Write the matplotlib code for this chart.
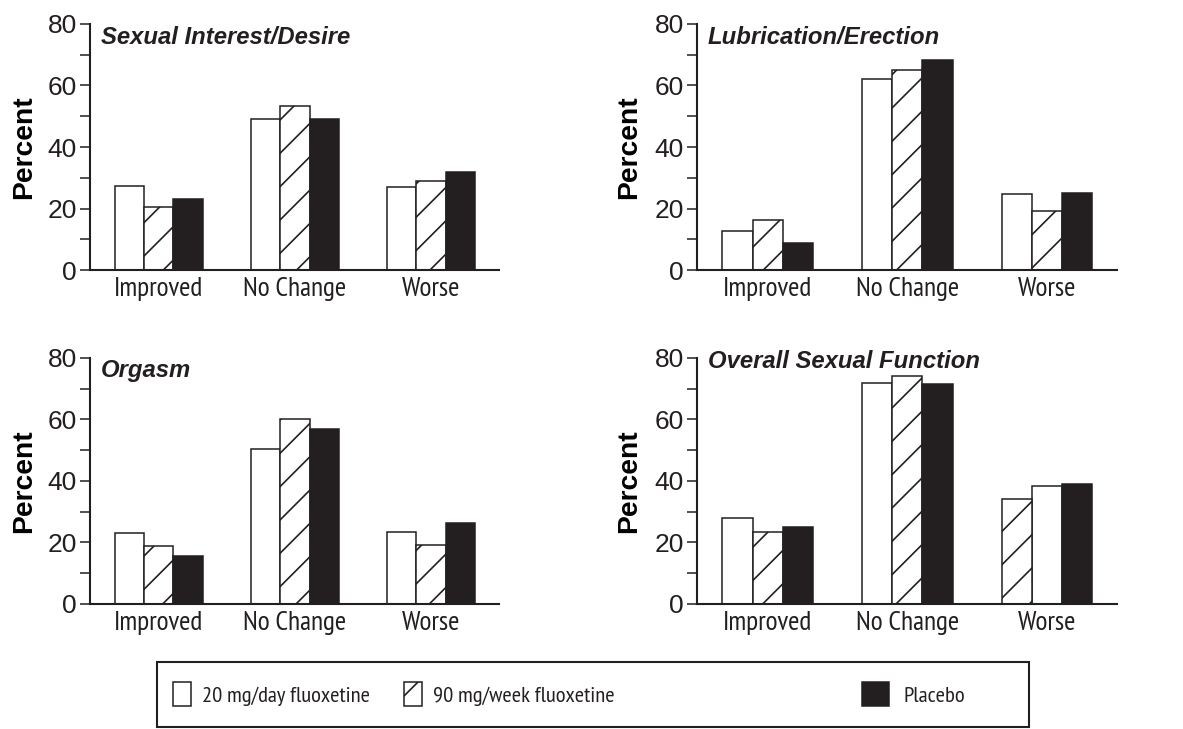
import numpy as np
import matplotlib
matplotlib.use("Agg")
import matplotlib.pyplot as plt
from matplotlib.patches import Patch, Rectangle


# =========================
# data (percent)
# =========================

categories = ["Improved", "No Change", "Worse"]
series_names = ["20 mg/day fluoxetine", "90 mg/week fluoxetine", "Placebo"]
panel_titles = ["Sexual Interest/Desire", "Lubrication/Erection",
                "Orgasm", "Overall Sexual Function"]

desire_daily = [27.3, 49.2, 27.1]
desire_weekly = [20.6, 53.2, 29.0]
desire_placebo = [23.1, 49.2, 31.9]

lubrication_daily = [12.6, 62.1, 24.8]
lubrication_weekly = [16.3, 65.1, 19.2]
lubrication_placebo = [8.9, 68.2, 25.0]

orgasm_daily = [23.0, 50.5, 23.5]
orgasm_weekly = [18.8, 60.3, 19.1]
orgasm_placebo = [15.7, 57.0, 26.3]

overall_daily = [27.8, 71.9, 38.2]
overall_weekly = [23.4, 74.1, 34.1]
overall_placebo = [25.1, 71.5, 39.1]

panel_values = [
    [desire_daily, desire_weekly, desire_placebo],
    [lubrication_daily, lubrication_weekly, lubrication_placebo],
    [orgasm_daily, orgasm_weekly, orgasm_placebo],
    [overall_daily, overall_weekly, overall_placebo],
]

# in the original, "Worse" of the last panel shows the hatched bar first
swapped = {(3, 2)}


# =========================
# style
# =========================

INK = "#231f20"
NARROW = ["PT Sans Narrow", "Roboto Condensed", "Liberation Sans", "DejaVu Sans"]
WIDE = ["Liberation Sans", "DejaVu Sans"]

plt.rcParams["font.family"] = NARROW
plt.rcParams["hatch.linewidth"] = 0.6
plt.rcParams["text.color"] = INK
plt.rcParams["axes.edgecolor"] = INK
plt.rcParams["xtick.color"] = INK
plt.rcParams["ytick.color"] = INK

styles = [
    dict(facecolor="white", edgecolor=INK, hatch=None),
    dict(facecolor="white", edgecolor=INK, hatch="//"),
    dict(facecolor=INK, edgecolor=INK, hatch=None),
]

# axes rectangles in figure fractions
rects = [
    [0.0761, 0.6296, 0.3457, 0.3375],
    [0.5892, 0.6296, 0.3550, 0.3375],
    [0.0761, 0.1715, 0.3457, 0.3375],
    [0.5892, 0.1715, 0.3550, 0.3375],
]
title_y = [0.947, 0.947, 0.948, 0.984]
legend_x = [0.1462, 0.3415, 0.7287]

bar_w = 0.216

fig = plt.figure(figsize=(5.915, 3.645), dpi=200)

for p, (vals, title) in enumerate(zip(panel_values, panel_titles)):
    ax = fig.add_axes(rects[p])
    x = np.arange(len(categories))
    offsets = np.array([[-1.0] * 3, [0.0] * 3, [1.0] * 3])
    for (pp, c) in swapped:
        if pp == p:
            offsets[0, c], offsets[1, c] = offsets[1, c], offsets[0, c]
    for i, v in enumerate(vals):
        ax.bar(x + offsets[i] * bar_w, v, width=bar_w, linewidth=0.55,
               **styles[i])

    ax.set_xlim(-0.505, 2.5)
    ax.set_ylim(0, 80)
    ax.set_yticks([0, 20, 40, 60, 80])
    ax.set_yticks([10, 30, 50, 70], minor=True)
    ax.set_xticks(x)
    ax.set_xticklabels(categories)
    ax.tick_params(axis="y", which="both", direction="out", length=3.6,
                   width=0.55, pad=1.2, labelsize=9.5)
    ax.tick_params(axis="x", length=0, pad=2.4, labelsize=9.9)
    for lab in ax.get_yticklabels():
        lab.set_family(WIDE)
    for s in ["top", "right"]:
        ax.spines[s].set_visible(False)
    for s in ["left", "bottom"]:
        ax.spines[s].set_linewidth(0.75)

    ax.set_ylabel("Percent", family=WIDE, fontweight="bold", fontsize=10.2)
    ax.yaxis.set_label_coords(-0.13, 0.5)
    ax.text(0.026, title_y[p], title, transform=ax.transAxes,
            family=WIDE, fontweight="bold", fontstyle="italic",
            fontsize=8.6, ha="left", va="center")

# legend box
fig.patches.append(Rectangle((0.1327, 0.0027), 0.7371, 0.0892,
                             transform=fig.transFigure, fill=False,
                             edgecolor=INK, linewidth=0.75))

for i, name in enumerate(series_names):
    handle = Patch(linewidth=0.55, **styles[i])
    fig.legend([handle], [name], frameon=False, loc="center left",
               bbox_to_anchor=(legend_x[i], 0.048), borderpad=0,
               borderaxespad=0, fontsize=8.1,
               handlelength=1.2 if i == 2 else 0.8, handleheight=1.25,
               handletextpad=0.65 if i == 2 else 0.5)

fig.savefig("out.png", dpi=200)
plt.close(fig)
